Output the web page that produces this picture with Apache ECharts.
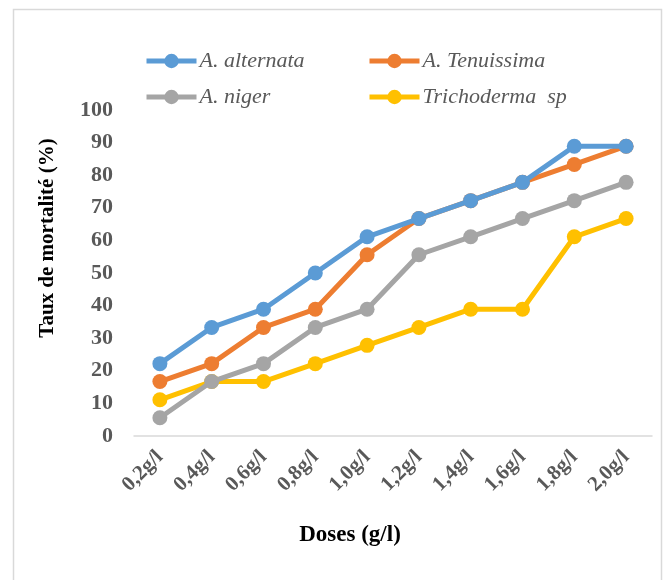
<!DOCTYPE html>
<html>
<head>
<meta charset="utf-8">
<script src="https://cdn.jsdelivr.net/npm/echarts@6/dist/echarts.min.js"></script>
<style>
  html, body { margin: 0; padding: 0; background: #fff; }
  #chart { width: 669px; height: 580px; }
</style>
</head>
<body>
<div id="chart"></div>
<script>
// Mortality rate (%) by dose for each fungal strain
const doses = ['0,2g/l', '0,4g/l', '0,6g/l', '0,8g/l', '1,0g/l', '1,2g/l', '1,4g/l', '1,6g/l', '1,8g/l', '2,0g/l'];
const alternata   = [22.2, 33.3, 38.9, 50.0, 61.1, 66.7, 72.2, 77.8, 88.9, 88.9];
const tenuissima  = [16.7, 22.2, 33.3, 38.9, 55.6, 66.7, 72.2, 77.8, 83.3, 88.9];
const niger       = [5.6, 16.7, 22.2, 33.3, 38.9, 55.6, 61.1, 66.7, 72.2, 77.8];
const trichoderma = [11.1, 16.7, 16.7, 22.2, 27.8, 33.3, 38.9, 38.9, 61.1, 66.7];
const yTicks = { min: 0, max: 100, interval: 10 };

const serif = '"Liberation Serif", "Times New Roman", serif';
const names = ['A. alternata', 'A. Tenuissima', 'A. niger', 'Trichoderma  sp'];
const colors = ['#5B9BD5', '#ED7D31', '#A5A5A5', '#FFC000'];
const values = [alternata, tenuissima, niger, trichoderma];

const legendPos = [
  { left: 139, top: 45 },
  { left: 362, top: 45 },
  { left: 139, top: 81 },
  { left: 362, top: 81 }
];

const chart = echarts.init(document.getElementById('chart'));
chart.setOption({
  animation: false,
  backgroundColor: '#fff',
  graphic: [{
    type: 'rect',
    shape: { x: 13.5, y: 9.5, width: 648, height: 600 },
    style: { fill: 'none', stroke: '#D9D9D9', lineWidth: 1.5 },
    silent: true
  }],
  legend: names.map((n, i) => ({
    data: [n],
    left: legendPos[i].left,
    top: legendPos[i].top,
    itemWidth: 50,
    itemHeight: 18,
    itemGap: 0,
    lineStyle: { width: 5 },
    textStyle: { fontFamily: serif, fontStyle: 'italic', fontSize: 22, color: '#595959', padding: [0, 0, 0, -2] }
  })),
  grid: { left: 134, right: 17, top: 110, bottom: 144, containLabel: false },
  xAxis: {
    type: 'category',
    data: doses,
    boundaryGap: true,
    axisLine: { show: true, lineStyle: { color: '#D9D9D9', width: 1.5 } },
    axisTick: { show: false },
    axisLabel: {
      rotate: 45,
      interval: 0,
      margin: 18,
      fontFamily: serif,
      fontWeight: 'bold',
      fontSize: 21,
      color: '#595959'
    },
    name: 'Doses (g/l)',
    nameLocation: 'middle',
    nameGap: 88,
    nameTextStyle: { fontFamily: serif, fontWeight: 'bold', fontSize: 23, color: '#000', padding: [0, 86, 0, 0] }
  },
  yAxis: {
    type: 'value',
    min: yTicks.min,
    max: yTicks.max,
    interval: yTicks.interval,
    splitLine: { show: false },
    axisLine: { show: false },
    axisTick: { show: false },
    axisLabel: {
      margin: 21,
      fontFamily: serif,
      fontWeight: 'bold',
      fontSize: 22,
      color: '#595959'
    },
    name: 'Taux de mortalité (%)',
    nameLocation: 'middle',
    nameGap: 76,
    nameTextStyle: { fontFamily: serif, fontWeight: 'bold', fontSize: 21, color: '#000', padding: [0, 0, 0, 70] }
  },
  series: names.map((n, i) => ({
    name: n,
    type: 'line',
    data: values[i],
    color: colors[i],
    symbol: 'circle',
    symbolSize: 15,
    lineStyle: { width: 5, color: colors[i] },
    itemStyle: { color: colors[i] },
    z: 10 - i
  }))
});
</script>
</body>
</html>
